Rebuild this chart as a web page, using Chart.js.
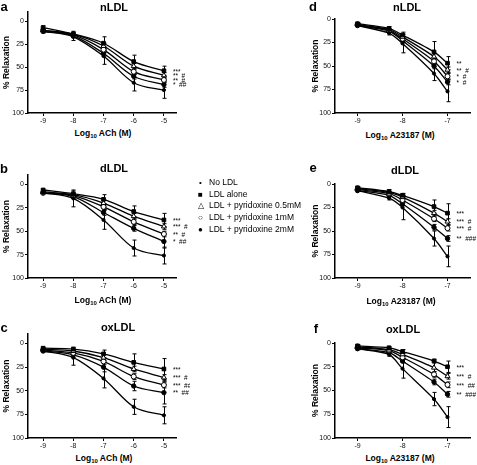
<!DOCTYPE html>
<html>
<head>
<meta charset="utf-8">
<script src="https://cdn.jsdelivr.net/npm/chart.js@4.4.0/dist/chart.umd.min.js"></script>
<style>
  body { margin:0; background:#fff; width:477px; height:465px; overflow:hidden; position:relative; font-family:"Liberation Sans", Arial, sans-serif; color:#000; }
  canvas { position:absolute; }
  .lbl { position:absolute; transform:translate(-50%,-50%); white-space:nowrap; }
  .letter { font-weight:bold; font-size:13px; }
  .ttl { font-weight:bold; font-size:11px; }
  .xt { font-weight:bold; font-size:8.5px; }
  .xt sub { font-size:6px; vertical-align:-2px; }
  #legend { position:absolute; left:196px; top:177px; font-size:8.5px; line-height:11.7px; }
  #legend .mk { display:inline-block; width:9px; text-align:center; margin-right:4px; font-size:8px; }
</style>
</head>
<body>
<canvas id="pa" width="190" height="125" style="left:0;top:0"></canvas>
<canvas id="pb" width="190" height="130" style="left:0;top:160px"></canvas>
<canvas id="pc" width="190" height="130" style="left:0;top:320px"></canvas>
<canvas id="pd" width="177" height="125" style="left:300px;top:0"></canvas>
<canvas id="pe" width="177" height="130" style="left:300px;top:160px"></canvas>
<canvas id="pf" width="177" height="130" style="left:300px;top:320px"></canvas>

<div class="lbl letter" style="left:4px;top:6px">a</div>
<div class="lbl letter" style="left:313px;top:6px">d</div>
<div class="lbl letter" style="left:4px;top:168px">b</div>
<div class="lbl letter" style="left:313px;top:167px">e</div>
<div class="lbl letter" style="left:4px;top:327px">c</div>
<div class="lbl letter" style="left:316px;top:328px">f</div>

<div class="lbl ttl" style="left:114px;top:7px">nLDL</div>
<div class="lbl ttl" style="left:407px;top:7px">nLDL</div>
<div class="lbl ttl" style="left:114px;top:168px">dLDL</div>
<div class="lbl ttl" style="left:405px;top:170px">dLDL</div>
<div class="lbl ttl" style="left:118px;top:327px">oxLDL</div>
<div class="lbl ttl" style="left:403px;top:329px">oxLDL</div>

<div class="lbl xt" style="left:103px;top:133px">Log<sub>10</sub> ACh (M)</div>
<div class="lbl xt" style="left:400px;top:135px">Log<sub>10</sub> A23187 (M)</div>
<div class="lbl xt" style="left:103px;top:300px">Log<sub>10</sub> ACh (M)</div>
<div class="lbl xt" style="left:401px;top:301px">Log<sub>10</sub> A23187 (M)</div>
<div class="lbl xt" style="left:104px;top:458px">Log<sub>10</sub> ACh (M)</div>
<div class="lbl xt" style="left:400px;top:458px">Log<sub>10</sub> A23187 (M)</div>

<div id="legend"></div>

<script>
// series order: No LDL, LDL alone, +0.5mM, +1mM, +2mM
const SERIES = ['No LDL', 'LDL alone', 'LDL + pyridoxine 0.5mM', 'LDL + pyridoxine 1mM', 'LDL + pyridoxine 2mM'];
const achDoses = [-9, -8, -7, -6, -5];
const a23Doses = [-9, -8.3, -8, -7.3, -7];
const achTicks = [-9, -8, -7, -6, -5];
const a23Ticks = [-9, -8, -7];
const yTicks = [0, 25, 50, 75, 100];

// a - nLDL, ACh
const aMean = [[11, 17, 38, 67, 75], [7, 14, 24, 44, 54], [10, 14, 27, 49, 59], [10, 15, 31, 55, 64], [11, 16, 35, 60, 69]];
const aSem = [[2, 4, 9, 9, 9], [2, 3, 7, 7, 5], [1, 2, 3, 3, 3], [1, 2, 3, 3, 3], [1, 2, 3, 3, 3]];
const aSig = ['', '***', '**  #', '**  #', '*  ##'];

// b - dLDL, ACh
const bMean = [[9, 15, 38, 68, 76], [6, 10, 16, 29, 38], [8, 11, 20, 34, 45], [9, 12, 24, 40, 53], [9, 13, 30, 47, 61]];
const bSem = [[1, 9, 10, 8.5, 9], [1, 3, 5, 6, 7], [1, 2, 3, 3, 3], [1, 2, 3, 3, 3], [1, 2, 3, 3, 7]];
const bSig = ['', '***', '***  #', '**  #', '*  ##'];

// c - oxLDL, ACh
const cMean = [[8, 15, 37, 67, 76], [5, 6, 11, 20, 27], [6, 8, 15, 27, 36], [7, 10, 19, 35, 44], [8, 12, 25, 45, 52]];
const cSem = [[1, 8, 10, 8, 9], [1, 2, 4, 9, 11], [1, 2, 3, 3, 3], [1, 2, 3, 3, 3], [1, 3, 5, 5, 12]];
const cSig = ['', '***', '***  #', '***  ##', '**  ##'];

// d - nLDL, A23187
const dMean = [[7, 15, 26, 58, 77], [5, 10, 17, 35, 47], [6, 11, 19, 40, 54], [6, 12, 21, 45, 61], [7, 13, 23, 50, 67]];
const dSem = [[1, 2, 10, 7.5, 11], [1, 2, 3, 11, 7], [1, 1, 2, 3, 3], [1, 1, 2, 3, 3], [1, 1, 2, 3, 3]];
const dSig = ['', '**', '**  #', '*  #', '*  #'];

// e - dLDL, A23187
const eMean = [[7, 15, 25, 58, 77], [4, 8, 12, 24, 31], [5, 9, 14, 31, 40], [6, 10, 17, 37, 47], [7, 12, 21, 46, 58]];
const eSem = [[1, 2, 13, 8, 11], [1, 2, 2, 7, 10], [1, 1, 2, 3, 3], [1, 1, 2, 3, 3], [1, 1, 2, 3, 3]];
const eSig = ['', '***', '***  #', '***  #', '**  ###'];

// f - oxLDL, A23187
const fMean = [[6, 12, 27, 59, 78], [3, 5, 9, 19, 25], [4, 7, 12, 26, 35], [5, 8, 15, 33, 44], [6, 10, 19, 41, 54]];
const fSem = [[1, 2, 10, 7, 11], [1, 1, 2, 2, 6], [1, 1, 2, 8, 3], [1, 1, 2, 3, 3], [1, 1, 2, 3, 3]];
const fSig = ['', '***', '***  #', '***  ##', '**  ###'];

const markers = [
    { style: 'circle', r: 1.6, bg: '#000' },
    { style: 'rect', r: 2.6, bg: '#000' },
    { style: 'triangle', r: 2.9, bg: '#fff' },
    { style: 'circle', r: 2.5, bg: '#fff' },
    { style: 'circle', r: 2.2, bg: '#000' },
];
const FONT = '"Liberation Sans", Arial, sans-serif';

// SEM bars, drawn under the markers
const errorBars = {
    id: 'errorBars',
    beforeDatasetsDraw(chart) {
        const { ctx, scales: { x, y } } = chart;
        ctx.save();
        ctx.strokeStyle = '#000';
        ctx.lineWidth = 1;
        chart.data.datasets.forEach((ds) => {
            ds.sem.forEach((e, i) => {
                const p = ds.data[i];
                const px = Math.round(x.getPixelForValue(p.x)) + 0.5;
                const t = y.getPixelForValue(p.y - e);
                const b = y.getPixelForValue(p.y + e);
                ctx.beginPath();
                ctx.moveTo(px, t); ctx.lineTo(px, b);
                ctx.moveTo(px - 2, t); ctx.lineTo(px + 2, t);
                ctx.moveTo(px - 2, b); ctx.lineTo(px + 2, b);
                ctx.stroke();
            });
        });
        ctx.restore();
    },
};

// significance marks next to the last dose
const sigLabels = {
    id: 'sigLabels',
    afterDatasetsDraw(chart) {
        const { ctx } = chart;
        ctx.save();
        ctx.fillStyle = '#000';
        ctx.font = '6.5px ' + FONT;
        ctx.textAlign = 'left';
        ctx.textBaseline = 'middle';
        chart.data.datasets.forEach((ds, i) => {
            if (!ds.sig) return;
            const pts = chart.getDatasetMeta(i).data;
            const last = pts[pts.length - 1];
            ctx.fillText(ds.sig, last.x + 9, last.y + 1);
        });
        ctx.restore();
    },
};

function makePanel(id, doses, means, sems, sigs, xTicks, opt) {
    const datasets = means.map((m, s) => ({
        label: SERIES[s],
        data: m.map((v, i) => ({ x: doses[i], y: v })),
        sem: sems[s],
        sig: sigs[s],
        borderColor: '#000',
        borderWidth: 1.3,
        backgroundColor: markers[s].bg,
        pointStyle: markers[s].style,
        pointRadius: markers[s].r,
        pointBorderColor: '#000',
        pointBorderWidth: 1,
        pointBackgroundColor: markers[s].bg,
        cubicInterpolationMode: opt.smooth ? 'monotone' : 'default',
        tension: opt.smooth ? 0 : 0.25,
        clip: false,
    }));
    return new Chart(document.getElementById(id), {
        type: 'line',
        data: { datasets },
        plugins: [errorBars, sigLabels],
        options: {
            responsive: false,
            animation: false,
            layout: { padding: { top: opt.padTop, right: opt.padRight, left: 0, bottom: 0 } },
            plugins: { legend: { display: false }, tooltip: { enabled: false } },
            scales: {
                x: {
                    type: 'linear',
                    min: opt.xMin,
                    max: opt.xMax,
                    afterBuildTicks: (sc) => { sc.ticks = xTicks.map((v) => ({ value: v })); },
                    afterFit: (sc) => { sc.height = 12; },
                    grid: { drawOnChartArea: false, tickLength: 3, color: '#000' },
                    border: { color: '#000', width: 1.5 },
                    ticks: { font: { family: FONT, size: 7 }, color: '#111', padding: 1, maxRotation: 0 },
                },
                y: {
                    reverse: true,
                    min: opt.yMin,
                    max: 100,
                    afterBuildTicks: (sc) => { sc.ticks = yTicks.map((v) => ({ value: v })); },
                    afterFit: (sc) => { sc.width = opt.yw; },
                    grid: { drawOnChartArea: false, tickLength: 3, color: '#000' },
                    border: { color: '#000', width: 1.5 },
                    ticks: { font: { family: FONT, size: 7 }, color: '#111', padding: 1 },
                    title: {
                        display: true,
                        text: '% Relaxation',
                        font: { family: FONT, size: 8.5, weight: 'bold' },
                        color: '#000',
                        padding: { top: opt.titlePad, bottom: 0 },
                    },
                },
            },
        },
    });
}

const achOpt = { xMin: -9.5, xMax: -4.6, yMin: -10, yw: 28, padRight: 14, titlePad: 1.5, smooth: true };
const a23Opt = { xMin: -9.5, xMax: -6.5, yMin: 0, yw: 35, padRight: 7, titlePad: 11, smooth: false };

makePanel('pa', achDoses, aMean, aSem, aSig, achTicks, { ...achOpt, padTop: 12 });
makePanel('pb', achDoses, bMean, bSem, bSig, achTicks, { ...achOpt, padTop: 15 });
makePanel('pc', achDoses, cMean, cSem, cSig, achTicks, { ...achOpt, padTop: 14 });
makePanel('pd', a23Doses, dMean, dSem, dSig, a23Ticks, { ...a23Opt, padTop: 19 });
makePanel('pe', a23Doses, eMean, eSem, eSig, a23Ticks, { ...a23Opt, padTop: 24 });
makePanel('pf', a23Doses, fMean, fSem, fSig, a23Ticks, { ...a23Opt, padTop: 23 });

// shared legend
const symbols = ['•', '■', '△', '○', '●'];
document.getElementById('legend').innerHTML = SERIES
    .map((s, i) => `<div><span class="mk">${symbols[i]}</span>${s}</div>`)
    .join('');
</script>
</body>
</html>
